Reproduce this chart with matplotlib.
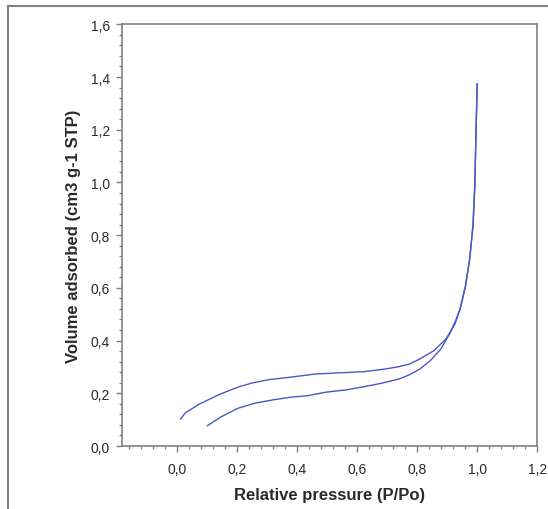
import matplotlib.pyplot as plt
from matplotlib.ticker import MultipleLocator, FuncFormatter
from matplotlib.lines import Line2D

# isoterma: rama de adsorcion (sube) y de desorcion (baja)
p_ads = [0.102, 0.145, 0.203, 0.262, 0.32, 0.378, 0.436, 0.495, 0.564, 0.623,
         0.681, 0.739, 0.774, 0.809, 0.844, 0.879, 0.908, 0.926, 0.943, 0.961,
         0.975, 0.986, 0.992, 0.996, 1.0]
v_ads = [0.077, 0.109, 0.143, 0.163, 0.175, 0.185, 0.191, 0.204, 0.213, 0.225,
         0.238, 0.254, 0.27, 0.292, 0.324, 0.368, 0.425, 0.47, 0.52, 0.605,
         0.71, 0.837, 0.988, 1.191, 1.374]
p_des = [1.0, 0.996, 0.992, 0.986, 0.975, 0.961, 0.943, 0.926, 0.896, 0.856,
         0.809, 0.774, 0.739, 0.693, 0.623, 0.529, 0.46, 0.378, 0.308, 0.25,
         0.203, 0.145, 0.075, 0.028, 0.013]
v_des = [1.374, 1.191, 0.988, 0.837, 0.71, 0.609, 0.52, 0.463, 0.406, 0.362,
         0.33, 0.311, 0.301, 0.292, 0.282, 0.277, 0.273, 0.261, 0.252, 0.239,
         0.223, 0.197, 0.159, 0.125, 0.102]

plt.rcParams['font.family'] = ['Liberation Sans', 'DejaVu Sans']
gris = '#808080'
texto = '#2a2a2a'
azul = '#4a57c8'

fig = plt.figure(figsize=(5.48, 5.10), dpi=100)
ax = fig.add_axes([0.2221, 0.1235, 0.7584, 0.8269])

ax.plot(p_ads, v_ads, color=azul, lw=1.0)
ax.plot(p_des, v_des, color=azul, lw=1.0)

ax.set_xlim(-0.183, 1.2)
ax.set_ylim(0, 1.6)
ax.xaxis.set_major_locator(MultipleLocator(0.2))
ax.xaxis.set_minor_locator(MultipleLocator(0.04))
ax.yaxis.set_major_locator(MultipleLocator(0.2))
ax.yaxis.set_minor_locator(MultipleLocator(0.04))
coma = FuncFormatter(lambda v, pos: f"{v:.1f}".replace('.', ','))
ax.xaxis.set_major_formatter(coma)
ax.yaxis.set_major_formatter(coma)
ax.set_xticks([0.0, 0.2, 0.4, 0.6, 0.8, 1.0, 1.2])

for s in ax.spines.values():
    s.set_color(gris)
    s.set_linewidth(1.2)
ax.tick_params(which='both', direction='out', color=gris, labelcolor=texto,
               top=False, right=False, labelsize=10)
ax.tick_params(which='major', length=4.5, width=1.0)
ax.tick_params(which='minor', length=2.5, width=0.9)
ax.tick_params(axis='x', pad=7)
ax.tick_params(axis='y', pad=4)

ax.set_xlabel("Relative pressure (P/Po)", fontsize=12, fontweight='bold',
              color=texto, labelpad=8)
ax.set_ylabel("Volume adsorbed (cm3 g-1 STP)", fontsize=12, fontweight='bold',
              color=texto, labelpad=7)

# marco gris del recuadro (solo izquierda y arriba)
fig.add_artist(Line2D([7.5 / 548, 7.5 / 548], [0, 1 - 7 / 510],
                      transform=fig.transFigure, color=gris, lw=1.5))
fig.add_artist(Line2D([7.5 / 548, 1], [1 - 7 / 510, 1 - 7 / 510],
                      transform=fig.transFigure, color=gris, lw=1.5))

fig.savefig("out.png", dpi=100)
